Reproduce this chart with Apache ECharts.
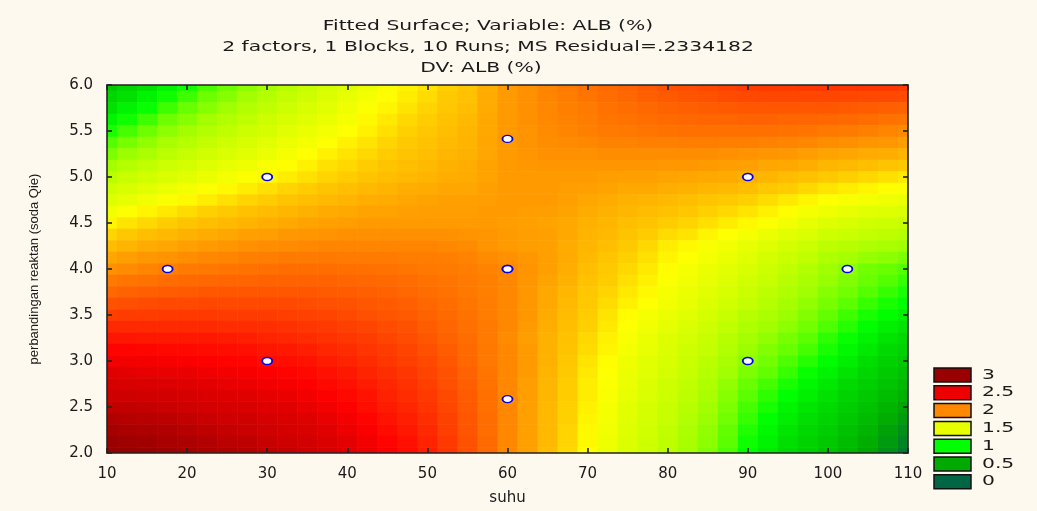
<!DOCTYPE html>
<html>
<head>
<meta charset="utf-8">
<script src="https://cdn.jsdelivr.net/npm/echarts@6.0.0/dist/echarts.min.js"></script>
<style>
  html, body { margin: 0; padding: 0; background: #fdf9ef; }
  #main { width: 1037px; height: 511px; }
</style>
</head>
<body>
<div id="main"></div>
<script>
// grid permukaan: suhu (x) tiap 2.5, perbandingan reaktan (y) tiap 0.125
var suhuList = [10, 12.5, 15, 17.5, 20, 22.5, 25, 27.5, 30, 32.5, 35, 37.5, 40, 42.5, 45, 47.5, 50, 52.5, 55, 57.5, 60,
  62.5, 65, 67.5, 70, 72.5, 75, 77.5, 80, 82.5, 85, 87.5, 90, 92.5, 95, 97.5, 100, 102.5, 105, 107.5, 110];
var rasioList = [6.0, 5.875, 5.75, 5.625, 5.5, 5.375, 5.25, 5.125, 5.0, 4.875, 4.75, 4.625, 4.5, 4.375, 4.25, 4.125, 4.0,
  3.875, 3.75, 3.625, 3.5, 3.375, 3.25, 3.125, 3.0, 2.875, 2.75, 2.625, 2.5, 2.375, 2.25, 2.125, 2.0];

// ALB (%) per baris, dibaca dari warna kontur gambar
var alb_6000 = [0.73,0.81,0.88,0.95,1.02,1.09,1.15,1.21,1.27,1.33,1.38,1.44,1.49,1.55,1.60,1.65,1.69,1.74,1.78,1.86,1.93,1.97,2.01,2.05,2.08,2.11,2.14,2.17,2.20,2.22,2.24,2.26,2.28,2.29,2.29,2.30,2.30,2.30,2.30,2.30,2.29];
var alb_5875 = [0.81,0.88,0.95,1.02,1.08,1.15,1.20,1.26,1.32,1.37,1.42,1.48,1.53,1.58,1.63,1.67,1.71,1.76,1.79,1.87,1.93,1.97,2.01,2.04,2.07,2.10,2.12,2.15,2.17,2.19,2.20,2.22,2.23,2.24,2.24,2.24,2.24,2.24,2.23,2.23,2.22];
var alb_5750 = [0.88,0.95,1.01,1.08,1.14,1.20,1.25,1.31,1.36,1.41,1.46,1.51,1.56,1.61,1.65,1.69,1.73,1.77,1.80,1.87,1.93,1.97,2.00,2.03,2.05,2.08,2.10,2.12,2.14,2.15,2.16,2.17,2.18,2.18,2.18,2.18,2.18,2.17,2.16,2.15,2.14];
var alb_5625 = [0.96,1.02,1.08,1.15,1.20,1.26,1.31,1.36,1.41,1.46,1.50,1.55,1.59,1.64,1.68,1.72,1.75,1.79,1.82,1.88,1.93,1.97,2.00,2.02,2.04,2.07,2.08,2.10,2.11,2.12,2.13,2.13,2.14,2.14,2.13,2.13,2.12,2.11,2.10,2.08,2.07];
var alb_5500 = [1.03,1.09,1.15,1.21,1.26,1.31,1.36,1.41,1.45,1.50,1.54,1.58,1.62,1.66,1.70,1.74,1.77,1.80,1.83,1.88,1.93,1.96,1.99,2.01,2.03,2.05,2.06,2.07,2.08,2.09,2.09,2.09,2.09,2.09,2.08,2.07,2.06,2.05,2.03,2.01,1.99];
var alb_5375 = [1.11,1.17,1.22,1.28,1.32,1.37,1.42,1.46,1.50,1.55,1.58,1.62,1.66,1.69,1.73,1.76,1.79,1.82,1.84,1.89,1.93,1.96,1.98,1.99,2.00,2.02,2.02,2.03,2.03,2.04,2.04,2.03,2.03,2.02,2.01,2.00,1.98,1.97,1.95,1.94,1.92];
var alb_5250 = [1.18,1.24,1.29,1.34,1.38,1.43,1.47,1.51,1.55,1.59,1.62,1.66,1.69,1.72,1.75,1.78,1.80,1.83,1.85,1.89,1.93,1.95,1.97,1.97,1.97,1.98,1.98,1.98,1.98,1.98,1.98,1.97,1.96,1.95,1.94,1.92,1.90,1.89,1.87,1.86,1.84];
var alb_5125 = [1.26,1.32,1.36,1.41,1.45,1.49,1.53,1.56,1.60,1.63,1.66,1.70,1.72,1.75,1.78,1.80,1.82,1.85,1.86,1.90,1.93,1.94,1.95,1.95,1.95,1.95,1.95,1.95,1.94,1.94,1.93,1.92,1.91,1.89,1.88,1.86,1.83,1.82,1.80,1.78,1.76];
var alb_5000 = [1.34,1.39,1.43,1.47,1.51,1.55,1.58,1.61,1.64,1.67,1.70,1.73,1.75,1.78,1.80,1.82,1.84,1.86,1.87,1.90,1.93,1.93,1.93,1.93,1.93,1.92,1.91,1.91,1.90,1.89,1.88,1.87,1.85,1.83,1.81,1.79,1.76,1.74,1.72,1.70,1.68];
var alb_4875 = [1.42,1.46,1.50,1.54,1.58,1.61,1.64,1.67,1.70,1.73,1.75,1.78,1.80,1.82,1.84,1.86,1.87,1.89,1.89,1.91,1.93,1.93,1.93,1.92,1.91,1.90,1.88,1.88,1.86,1.85,1.83,1.82,1.80,1.77,1.75,1.72,1.69,1.67,1.65,1.63,1.61];
var alb_4750 = [1.49,1.53,1.57,1.61,1.64,1.67,1.70,1.73,1.75,1.78,1.80,1.82,1.84,1.86,1.87,1.89,1.90,1.91,1.91,1.92,1.93,1.93,1.93,1.91,1.89,1.87,1.85,1.84,1.82,1.80,1.78,1.76,1.74,1.71,1.68,1.65,1.62,1.60,1.58,1.56,1.54];
var alb_4625 = [1.57,1.61,1.65,1.68,1.71,1.74,1.76,1.79,1.81,1.83,1.85,1.87,1.88,1.90,1.90,1.91,1.92,1.92,1.92,1.93,1.93,1.92,1.92,1.90,1.87,1.85,1.83,1.81,1.79,1.77,1.74,1.72,1.69,1.66,1.63,1.59,1.56,1.53,1.51,1.49,1.47];
var alb_4500 = [1.65,1.69,1.72,1.75,1.78,1.80,1.82,1.84,1.86,1.88,1.90,1.91,1.92,1.93,1.93,1.93,1.93,1.93,1.93,1.93,1.92,1.91,1.90,1.88,1.85,1.83,1.80,1.78,1.75,1.73,1.70,1.67,1.64,1.61,1.57,1.53,1.49,1.46,1.43,1.41,1.39];
var alb_4375 = [1.73,1.77,1.80,1.82,1.85,1.87,1.89,1.91,1.92,1.94,1.95,1.96,1.97,1.97,1.97,1.97,1.97,1.97,1.96,1.95,1.93,1.92,1.91,1.88,1.84,1.82,1.78,1.75,1.71,1.69,1.65,1.62,1.59,1.55,1.51,1.47,1.42,1.40,1.37,1.35,1.32];
var alb_4250 = [1.81,1.84,1.87,1.89,1.91,1.93,1.95,1.97,1.98,1.99,2.00,2.01,2.01,2.01,2.01,2.01,2.01,2.00,1.99,1.96,1.93,1.92,1.91,1.87,1.83,1.80,1.76,1.72,1.67,1.64,1.60,1.57,1.53,1.49,1.44,1.40,1.35,1.33,1.30,1.28,1.25];
var alb_4125 = [1.89,1.92,1.94,1.96,1.98,2.00,2.01,2.03,2.04,2.05,2.05,2.06,2.05,2.05,2.05,2.04,2.04,2.03,2.02,1.99,1.97,1.94,1.91,1.87,1.82,1.78,1.74,1.70,1.65,1.62,1.58,1.54,1.50,1.45,1.40,1.36,1.30,1.27,1.23,1.21,1.18];
var alb_4000 = [1.97,1.99,2.01,2.03,2.05,2.06,2.07,2.08,2.09,2.10,2.10,2.10,2.09,2.09,2.08,2.07,2.06,2.05,2.04,2.02,2.00,1.96,1.91,1.86,1.80,1.76,1.72,1.68,1.63,1.59,1.55,1.51,1.46,1.41,1.36,1.31,1.25,1.21,1.16,1.14,1.11];
var alb_3875 = [2.05,2.07,2.08,2.10,2.11,2.12,2.13,2.13,2.14,2.14,2.14,2.14,2.13,2.12,2.11,2.10,2.08,2.07,2.05,2.03,2.00,1.95,1.90,1.85,1.79,1.75,1.70,1.66,1.61,1.57,1.53,1.49,1.43,1.38,1.33,1.28,1.23,1.19,1.14,1.11,1.07];
var alb_3750 = [2.12,2.14,2.15,2.16,2.17,2.18,2.18,2.18,2.18,2.18,2.18,2.17,2.16,2.15,2.14,2.12,2.10,2.08,2.06,2.03,2.00,1.94,1.88,1.83,1.77,1.73,1.68,1.64,1.59,1.55,1.51,1.46,1.40,1.35,1.30,1.25,1.20,1.16,1.11,1.07,1.03];
var alb_3625 = [2.20,2.21,2.22,2.23,2.23,2.24,2.23,2.23,2.23,2.23,2.22,2.21,2.20,2.18,2.17,2.15,2.12,2.10,2.07,2.04,2.00,1.94,1.88,1.82,1.76,1.71,1.66,1.62,1.57,1.53,1.48,1.43,1.37,1.32,1.27,1.22,1.17,1.12,1.07,1.03,0.99];
var alb_3500 = [2.27,2.28,2.28,2.29,2.29,2.29,2.28,2.28,2.28,2.27,2.26,2.25,2.23,2.21,2.19,2.17,2.14,2.11,2.08,2.04,2.00,1.94,1.87,1.81,1.75,1.69,1.63,1.59,1.54,1.50,1.45,1.39,1.33,1.29,1.24,1.19,1.13,1.08,1.03,0.99,0.94];
var alb_3375 = [2.35,2.35,2.35,2.35,2.35,2.35,2.34,2.34,2.33,2.32,2.30,2.29,2.27,2.25,2.22,2.20,2.16,2.13,2.09,2.05,2.00,1.93,1.86,1.80,1.74,1.68,1.62,1.57,1.52,1.47,1.42,1.36,1.30,1.26,1.21,1.16,1.10,1.05,0.99,0.94,0.89];
var alb_3250 = [2.42,2.42,2.41,2.41,2.41,2.41,2.40,2.39,2.37,2.36,2.34,2.32,2.30,2.28,2.25,2.22,2.18,2.14,2.10,2.05,1.99,1.92,1.85,1.79,1.72,1.66,1.60,1.55,1.49,1.44,1.39,1.33,1.27,1.22,1.17,1.12,1.06,1.01,0.95,0.89,0.83];
var alb_3125 = [2.49,2.49,2.48,2.47,2.47,2.46,2.45,2.44,2.42,2.41,2.39,2.36,2.34,2.31,2.28,2.25,2.21,2.16,2.11,2.06,2.00,1.93,1.85,1.78,1.71,1.65,1.58,1.53,1.48,1.42,1.37,1.31,1.24,1.19,1.14,1.09,1.03,0.97,0.91,0.84,0.78];
var alb_3000 = [2.55,2.55,2.54,2.53,2.52,2.51,2.49,2.48,2.46,2.45,2.43,2.40,2.37,2.34,2.30,2.27,2.23,2.18,2.12,2.06,2.00,1.93,1.85,1.77,1.69,1.63,1.56,1.51,1.46,1.40,1.34,1.28,1.21,1.16,1.10,1.05,0.99,0.93,0.86,0.79,0.72];
var alb_2875 = [2.62,2.61,2.60,2.59,2.58,2.56,2.54,2.53,2.51,2.49,2.47,2.44,2.41,2.37,2.33,2.30,2.25,2.20,2.14,2.07,2.00,1.93,1.84,1.76,1.68,1.62,1.55,1.50,1.44,1.38,1.32,1.25,1.18,1.13,1.07,1.01,0.95,0.89,0.82,0.74,0.67];
var alb_2750 = [2.68,2.67,2.66,2.65,2.63,2.61,2.59,2.57,2.55,2.53,2.50,2.47,2.44,2.40,2.36,2.32,2.27,2.21,2.15,2.08,2.00,1.92,1.83,1.75,1.67,1.61,1.54,1.48,1.42,1.36,1.30,1.22,1.14,1.09,1.03,0.97,0.91,0.84,0.77,0.69,0.61];
var alb_2625 = [2.74,2.73,2.72,2.71,2.68,2.66,2.64,2.62,2.60,2.58,2.55,2.51,2.47,2.43,2.38,2.34,2.29,2.23,2.16,2.09,2.00,1.92,1.83,1.75,1.67,1.60,1.53,1.47,1.41,1.35,1.28,1.20,1.12,1.06,1.00,0.94,0.88,0.80,0.73,0.64,0.55];
var alb_2500 = [2.80,2.79,2.78,2.76,2.73,2.71,2.69,2.67,2.64,2.62,2.59,2.55,2.50,2.45,2.40,2.36,2.31,2.24,2.17,2.09,2.00,1.91,1.82,1.74,1.66,1.59,1.51,1.45,1.39,1.33,1.26,1.18,1.09,1.03,0.96,0.90,0.84,0.76,0.68,0.58,0.48];
var alb_2375 = [2.87,2.85,2.84,2.82,2.79,2.76,2.74,2.72,2.69,2.66,2.63,2.59,2.54,2.49,2.43,2.39,2.33,2.26,2.18,2.10,2.00,1.91,1.82,1.74,1.65,1.58,1.50,1.44,1.38,1.31,1.24,1.16,1.07,1.00,0.93,0.87,0.80,0.72,0.63,0.52,0.40];
var alb_2250 = [2.93,2.91,2.89,2.87,2.84,2.81,2.78,2.76,2.73,2.70,2.67,2.62,2.57,2.52,2.46,2.41,2.35,2.27,2.19,2.10,2.00,1.91,1.82,1.73,1.64,1.57,1.49,1.43,1.36,1.29,1.22,1.13,1.04,0.97,0.90,0.83,0.76,0.67,0.58,0.45,0.31];
var alb_2125 = [2.99,2.97,2.95,2.92,2.89,2.86,2.83,2.81,2.77,2.74,2.71,2.66,2.61,2.55,2.49,2.44,2.37,2.29,2.20,2.11,2.00,1.91,1.82,1.73,1.64,1.56,1.48,1.42,1.35,1.28,1.21,1.12,1.02,0.95,0.87,0.80,0.73,0.63,0.53,0.39,0.23];
var alb_2000 = [3.05,3.03,3.00,2.97,2.94,2.91,2.88,2.85,2.81,2.78,2.75,2.70,2.64,2.58,2.52,2.46,2.39,2.30,2.21,2.11,2.00,1.91,1.81,1.72,1.63,1.55,1.47,1.41,1.34,1.27,1.19,1.10,1.00,0.92,0.84,0.77,0.69,0.59,0.48,0.32,0.15];
var albRows = [alb_6000, alb_5875, alb_5750, alb_5625, alb_5500, alb_5375, alb_5250, alb_5125, alb_5000,
  alb_4875, alb_4750, alb_4625, alb_4500, alb_4375, alb_4250, alb_4125, alb_4000,
  alb_3875, alb_3750, alb_3625, alb_3500, alb_3375, alb_3250, alb_3125, alb_3000,
  alb_2875, alb_2750, alb_2625, alb_2500, alb_2375, alb_2250, alb_2125, alb_2000];

// titik percobaan (10 runs, 2 di titik pusat)
var runSuhu = [17.57, 30, 30, 60, 60, 60, 60, 90, 90, 102.43];
var runRasio = [4, 3, 5, 2.586, 4, 4, 5.414, 3, 5, 4];

// legenda
var legendLabels = ['3', '2.5', '2', '1.5', '1', '0.5', '0'];
var legendColors = ['#990000', '#ee0000', '#ff8800', '#e8ff00', '#00ff00', '#00aa00', '#006644'];

// judul
var titleLines = ['Fitted Surface; Variable: ALB (%)', '2 factors, 1 Blocks, 10 Runs; MS Residual=.2334182', 'DV: ALB (%)'];

// warna level kontur, 0 .. 3.125 tiap 0.125
var levelColors = ['#006644', '#007733', '#008822', '#009911', '#00aa00', '#00bb00', '#00cc00', '#00e000',
  '#00ff00', '#60ff00', '#a0ff00', '#c4ff00', '#e0ff00', '#ffff00', '#ffcc00', '#ffaa00',
  '#ff8800', '#ff6600', '#ff4400', '#ff2200', '#ff0000', '#e00000', '#cc0000', '#b00000', '#990000', '#880000'];

var xStep = 2.5, yStep = 0.125;

var cells = [];
for (var i = 0; i < rasioList.length; i++) {
  for (var j = 0; j < suhuList.length; j++) {
    cells.push([suhuList[j], rasioList[i], albRows[i][j]]);
  }
}
var runs = [];
for (var k = 0; k < runSuhu.length; k++) {
  runs.push([runSuhu[k], runRasio[k]]);
}

var chart = echarts.init(document.getElementById('main'));

var textColor = '#1a1a1a';
var axisLineStyle = { color: '#222', width: 1.6 };

var graphics = [];
// judul, teksnya agak melebar seperti aslinya
var titleX = [488, 488, 481];
titleLines.forEach(function (t, i) {
  graphics.push({
    type: 'text', x: titleX[i], y: 26 + i * 21, scaleX: 1.4, z: 20,
    style: {
      text: t, font: '14.5px DejaVu Sans', fill: textColor,
      align: 'center', verticalAlign: 'middle', textAlign: 'center', textVerticalAlign: 'middle'
    }
  });
});
legendLabels.forEach(function (lab, i) {
  var top = 368 + i * 17.8;
  graphics.push({
    type: 'rect', x: 934, y: top, z: 20,
    shape: { x: 0, y: 0, width: 37, height: 14 },
    style: { fill: legendColors[i], stroke: '#111', lineWidth: 1.5 }
  });
  graphics.push({
    type: 'text', x: 982, y: top + 7, scaleX: 1.45, z: 20,
    style: {
      text: lab, font: '14px DejaVu Sans', fill: textColor,
      align: 'left', verticalAlign: 'middle', textAlign: 'left', textVerticalAlign: 'middle'
    }
  });
});

var option = {
  backgroundColor: '#fdf9ef',
  animation: false,
  grid: { left: 107, top: 85, width: 801, height: 373, show: false },
  visualMap: {
    type: 'continuous', show: false, seriesIndex: 0, dimension: 2,
    min: 0, max: 3.125,
    inRange: { color: levelColors }
  },
  xAxis: [{
    type: 'value', min: 10, max: 110, interval: 10, z: 5,
    name: 'suhu', nameLocation: 'middle', nameGap: 38,
    nameTextStyle: { fontFamily: 'DejaVu Sans', fontSize: 15, color: textColor },
    axisLine: { lineStyle: axisLineStyle },
    axisTick: { inside: true, length: 5, lineStyle: axisLineStyle },
    axisLabel: { margin: 14, fontFamily: 'DejaVu Sans', fontSize: 15, color: textColor },
    splitLine: { show: false }
  }, {
    type: 'value', position: 'top', min: 10, max: 110, interval: 10, z: 5,
    axisLine: { lineStyle: axisLineStyle },
    axisTick: { inside: true, length: 5, lineStyle: axisLineStyle },
    axisLabel: { show: false },
    splitLine: { show: false }
  }],
  yAxis: [{
    type: 'value', min: 2, max: 6, interval: 0.5, z: 5,
    name: 'perbandingan reaktan (soda Qie)', nameLocation: 'middle', nameRotate: 90, nameGap: 66,
    nameTextStyle: { fontFamily: 'Liberation Sans', fontSize: 13, color: textColor },
    axisLine: { lineStyle: axisLineStyle },
    axisTick: { inside: true, length: 5, lineStyle: axisLineStyle },
    axisLabel: {
      margin: 14, fontFamily: 'DejaVu Sans', fontSize: 15, color: textColor,
      formatter: function (v) { return v.toFixed(1); }
    },
    splitLine: { show: false }
  }, {
    type: 'value', position: 'right', min: 2, max: 6, interval: 0.5, z: 5,
    axisLine: { lineStyle: axisLineStyle },
    axisTick: { inside: true, length: 5, lineStyle: axisLineStyle },
    axisLabel: { show: false },
    splitLine: { show: false }
  }],
  graphic: graphics,
  series: [{
    type: 'custom',
    xAxisIndex: 0, yAxisIndex: 0,
    clip: true,
    z: 1,
    encode: { x: 0, y: 1 },
    renderItem: function (params, api) {
      var x = api.value(0), y = api.value(1);
      var p0 = api.coord([x - xStep / 2, y + yStep / 2]);
      var p1 = api.coord([x + xStep / 2, y - yStep / 2]);
      return {
        type: 'rect',
        shape: { x: p0[0], y: p0[1], width: p1[0] - p0[0] + 0.6, height: p1[1] - p0[1] + 0.6 },
        style: { fill: api.visual('color') }
      };
    },
    data: cells
  }, {
    type: 'scatter',
    xAxisIndex: 0, yAxisIndex: 0,
    z: 10,
    symbol: 'circle',
    symbolSize: [10, 7],
    itemStyle: { color: '#ffffff', borderColor: '#0000ee', borderWidth: 1.6, opacity: 1 },
    data: runs
  }]
};

chart.setOption(option);
</script>
</body>
</html>
